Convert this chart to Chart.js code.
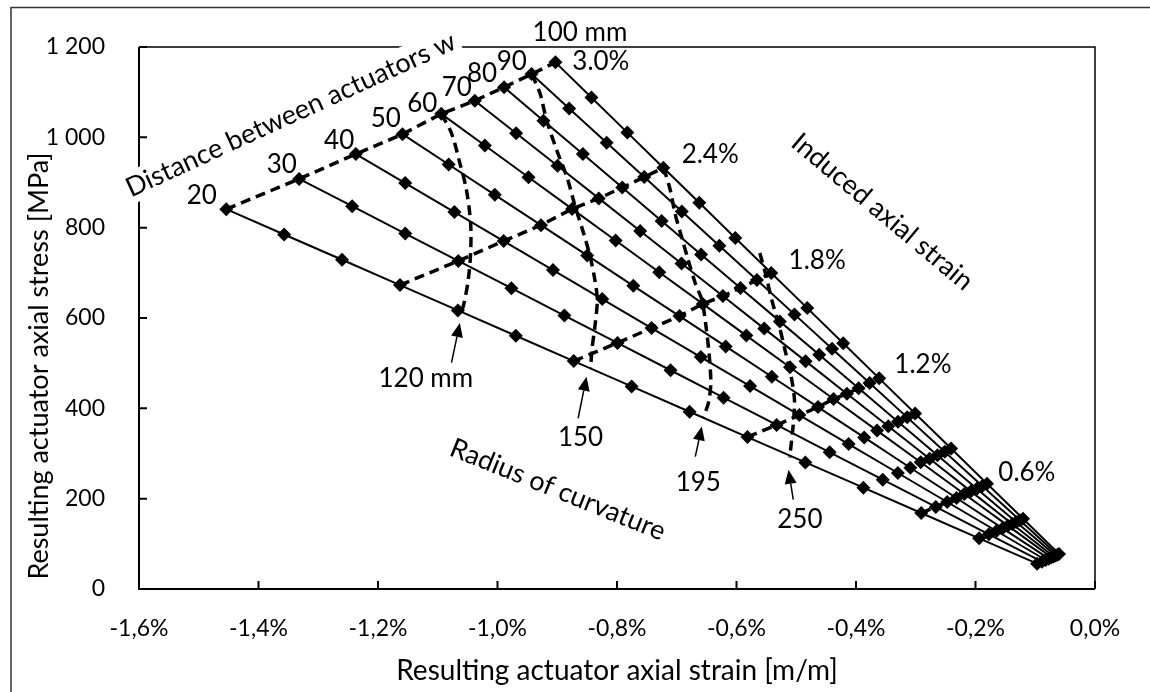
<!DOCTYPE html>
<html>
<head>
<meta charset="utf-8">
<script src="https://cdn.jsdelivr.net/npm/chart.js@4.4.0/dist/chart.umd.min.js"></script>
<style>
  html, body { margin: 0; padding: 0; background: #fff; }
</style>
</head>
<body>
<canvas id="chart" width="1150" height="692"></canvas>
<script>
// Induced axial strain steps (one marker per step)
const inducedStrain = ['0.2%', '0.4%', '0.6%', '0.8%', '1.0%', '1.2%', '1.4%', '1.6%', '1.8%', '2.0%', '2.2%', '2.4%', '2.6%', '2.8%', '3.0%'];
// Distance between actuators w [mm]
const distances = ['20', '30', '40', '50', '60', '70', '80', '90', '100'];

// Resulting strain [%] and stress [MPa] for each w
const strainW20 = [-0.0969, -0.1939, -0.2908, -0.3877, -0.4847, -0.5816, -0.6785, -0.7755, -0.8724, -0.9693, -1.0663, -1.1632, -1.2601, -1.3571, -1.454];
const stressW20 = [56.1, 112.1, 168.2, 224.3, 280.3, 336.4, 392.5, 448.5, 504.6, 560.7, 616.7, 672.8, 728.9, 784.9, 841];
const strainW30 = [-0.0888, -0.1776, -0.2664, -0.3552, -0.444, -0.5328, -0.6216, -0.7104, -0.7992, -0.888, -0.9768, -1.0656, -1.1544, -1.2432, -1.332];
const stressW30 = [60.5, 121.1, 181.6, 242.1, 302.7, 363.2, 423.7, 484.3, 544.8, 605.3, 665.9, 726.4, 786.9, 847.5, 908];
const strainW40 = [-0.0825, -0.1649, -0.2474, -0.3299, -0.4123, -0.4948, -0.5773, -0.6597, -0.7422, -0.8247, -0.9071, -0.9896, -1.0721, -1.1545, -1.237];
const stressW40 = [64.2, 128.4, 192.6, 256.8, 321, 385.2, 449.4, 513.6, 577.8, 642, 706.2, 770.4, 834.6, 898.8, 963];
const strainW50 = [-0.0773, -0.1545, -0.2318, -0.3091, -0.3863, -0.4636, -0.5409, -0.6181, -0.6954, -0.7727, -0.8499, -0.9272, -1.0045, -1.0817, -1.159];
const stressW50 = [67.1, 134.3, 201.4, 268.5, 335.7, 402.8, 469.9, 537.1, 604.2, 671.3, 738.5, 805.6, 872.7, 939.9, 1007];
const strainW60 = [-0.0729, -0.1459, -0.2188, -0.2917, -0.3647, -0.4376, -0.5105, -0.5835, -0.6564, -0.7293, -0.8023, -0.8752, -0.9481, -1.0211, -1.094];
const stressW60 = [70.1, 140.3, 210.4, 280.5, 350.7, 420.8, 490.9, 561.1, 631.2, 701.3, 771.5, 841.6, 911.7, 981.9, 1052];
const strainW70 = [-0.0692, -0.1384, -0.2076, -0.2768, -0.346, -0.4152, -0.4844, -0.5536, -0.6228, -0.692, -0.7612, -0.8304, -0.8996, -0.9688, -1.038];
const stressW70 = [72.1, 144.1, 216.2, 288.3, 360.3, 432.4, 504.5, 576.5, 648.6, 720.7, 792.7, 864.8, 936.9, 1008.9, 1081];
const strainW80 = [-0.0659, -0.1319, -0.1978, -0.2637, -0.3297, -0.3956, -0.4615, -0.5275, -0.5934, -0.6593, -0.7253, -0.7912, -0.8571, -0.9231, -0.989];
const stressW80 = [74.1, 148.1, 222.2, 296.3, 370.3, 444.4, 518.5, 592.5, 666.6, 740.7, 814.7, 888.8, 962.9, 1036.9, 1111];
const strainW90 = [-0.0629, -0.1257, -0.1886, -0.2515, -0.3143, -0.3772, -0.4401, -0.5029, -0.5658, -0.6287, -0.6915, -0.7544, -0.8173, -0.8801, -0.943];
const stressW90 = [76, 152, 228, 304, 380, 456, 532, 608, 684, 760, 836, 912, 988, 1064, 1140];
const strainW100 = [-0.0602, -0.1204, -0.1806, -0.2408, -0.301, -0.3612, -0.4214, -0.4816, -0.5418, -0.602, -0.6622, -0.7224, -0.7826, -0.8428, -0.903];
const stressW100 = [77.7, 155.5, 233.2, 310.9, 388.7, 466.4, 544.1, 621.9, 699.6, 777.3, 855.1, 932.8, 1010.5, 1088.3, 1166];

// Radius of curvature curves
const radiusLabels = ['120 mm', '150', '195', '250'];
const strainR120 = [-1.094, -1.077, -1.063, -1.052, -1.045, -1.045, -1.049, -1.056, -1.062];
const stressR120 = [1052, 1009, 943, 884, 810, 744, 684, 633, 605];
const strainR150 = [-0.943, -0.929, -0.918, -0.901, -0.884, -0.870, -0.856, -0.845, -0.837, -0.833, -0.837, -0.842, -0.844];
const stressR150 = [1140, 1098, 1039, 972, 913, 847, 788, 736, 684, 640, 581, 530, 489];
const strainR195 = [-0.722, -0.711, -0.703, -0.692, -0.681, -0.669, -0.658, -0.651, -0.646, -0.643, -0.647, -0.656];
const stressR195 = [933, 884, 832, 780, 729, 677, 640, 581, 522, 456, 412, 379];
const strainR250 = [-0.561, -0.551, -0.541, -0.529, -0.519, -0.509, -0.503, -0.505, -0.511];
const stressR250 = [744, 696, 640, 585, 530, 474, 419, 364, 291];

// Axis ticks
const xTicks = [-1.6, -1.4, -1.2, -1.0, -0.8, -0.6, -0.4, -0.2, 0];
const yTicks = [0, 200, 400, 600, 800, 1000, 1200];

const strainSeries = [strainW20, strainW30, strainW40, strainW50, strainW60, strainW70, strainW80, strainW90, strainW100];
const stressSeries = [stressW20, stressW30, stressW40, stressW50, stressW60, stressW70, stressW80, stressW90, stressW100];
const radiusStrain = [strainR120, strainR150, strainR195, strainR250];
const radiusStress = [stressR120, stressR150, stressR195, stressR250];
// iso-strain lines drawn at 0.6, 1.2, 1.8, 2.4 and 3.0 %
const isoSteps = ['0.6%', '1.2%', '1.8%', '2.4%', '3.0%'];

const FONT = 'Lato';

function pts(xs, ys) {
    return xs.map((x, i) => ({ x: x, y: ys[i] }));
}

const datasets = [];

// lineas de deformación inducida constante (discontinuas)
isoSteps.forEach(step => {
    const j = inducedStrain.indexOf(step);
    datasets.push({
        label: step,
        data: strainSeries.map((s, i) => ({ x: s[j], y: stressSeries[i][j] })),
        showLine: true,
        borderColor: '#000',
        borderWidth: 3.5,
        borderDash: [10, 6],
        pointRadius: 0
    });
});

// curvas de radio de curvatura
radiusLabels.forEach((r, i) => {
    datasets.push({
        label: r,
        data: pts(radiusStrain[i], radiusStress[i]),
        showLine: true,
        borderColor: '#000',
        borderWidth: 3.5,
        borderDash: [10, 6],
        tension: 0.3,
        pointRadius: 0
    });
});

// una serie por distancia w
distances.forEach((d, i) => {
    datasets.push({
        label: d + ' mm',
        data: pts(strainSeries[i], stressSeries[i]),
        showLine: true,
        borderColor: '#000',
        borderWidth: 2,
        backgroundColor: '#000',
        pointStyle: 'rectRot',
        pointRadius: 7,
        pointBorderWidth: 0
    });
});

// Text annotations (data coordinates)
const numberLabels = [
    { text: '20', x: -1.495, y: 870 },
    { text: '30', x: -1.361, y: 939 },
    { text: '40', x: -1.265, y: 992 },
    { text: '50', x: -1.187, y: 1041 },
    { text: '60', x: -1.126, y: 1074 },
    { text: '70', x: -1.068, y: 1109 },
    { text: '80', x: -1.026, y: 1140 },
    { text: '90', x: -0.976, y: 1167 },
    { text: '100 mm', x: -0.862, y: 1232 },
    { text: '3.0%', x: -0.827, y: 1167 },
    { text: '2.4%', x: -0.644, y: 961 },
    { text: '1.8%', x: -0.465, y: 726 },
    { text: '1.2%', x: -0.288, y: 496 },
    { text: '0.6%', x: -0.114, y: 257 },
    { text: '120 mm', x: -1.12, y: 465 },
    { text: '150', x: -0.861, y: 336 },
    { text: '195', x: -0.664, y: 235 },
    { text: '250', x: -0.494, y: 153 }
];
const rotatedLabels = [
    { text: 'Distance between actuators w', x: -1.346, y: 1050, angle: -24.6, box: true },
    { text: 'Induced axial strain', x: -0.356, y: 835, angle: 40 },
    { text: 'Radius of curvature', x: -0.899, y: 220, angle: 22 }
];
const arrows = [
    { x1: -1.077, y1: 501, x2: -1.063, y2: 589 },
    { x1: -0.865, y1: 378, x2: -0.851, y2: 470 },
    { x1: -0.669, y1: 293, x2: -0.658, y2: 360 },
    { x1: -0.505, y1: 198, x2: -0.513, y2: 264 }
];

const framePlugin = {
    id: 'frame',
    beforeDraw(chart) {
        const ctx = chart.ctx;
        ctx.save();
        ctx.fillStyle = '#fff';
        ctx.fillRect(0, 0, chart.width, chart.height);
        ctx.strokeStyle = '#333';
        ctx.lineWidth = 1.5;
        ctx.beginPath();
        ctx.moveTo(11, chart.height);
        ctx.lineTo(11, 7.5);
        ctx.lineTo(chart.width, 7.5);
        ctx.stroke();
        ctx.restore();
    },
    beforeDatasetsDraw(chart) {
        const { ctx, chartArea: a, scales: { x, y } } = chart;
        ctx.save();
        ctx.strokeStyle = '#000';
        ctx.lineWidth = 1.5;
        ctx.beginPath();
        ctx.moveTo(a.left, a.top);
        ctx.lineTo(a.right, a.top);
        ctx.lineTo(a.right, a.bottom);
        ctx.stroke();
        ctx.lineWidth = 2;
        ctx.beginPath();
        ctx.moveTo(a.left, a.top);
        ctx.lineTo(a.left, a.bottom);
        ctx.lineTo(a.right, a.bottom);
        ctx.stroke();
        // marcas de graduación hacia dentro
        ctx.lineWidth = 2;
        ctx.beginPath();
        x.ticks.forEach(t => {
            const px = x.getPixelForValue(t.value);
            ctx.moveTo(px, a.bottom);
            ctx.lineTo(px, a.bottom - 8);
        });
        y.ticks.forEach(t => {
            const py = y.getPixelForValue(t.value);
            ctx.moveTo(a.left, py);
            ctx.lineTo(a.left + 8, py);
        });
        ctx.stroke();
        // título eje Y
        ctx.fillStyle = '#000';
        ctx.font = '27px ' + FONT;
        ctx.textAlign = 'center';
        ctx.textBaseline = 'middle';
        ctx.translate(39, (a.top + a.bottom) / 2 + 48);
        ctx.rotate(-Math.PI / 2);
        ctx.fillText('Resulting actuator axial stress [MPa]', 0, 0);
        ctx.restore();
    },
    afterDatasetsDraw(chart) {
        const { ctx, scales: { x, y } } = chart;
        ctx.save();
        ctx.fillStyle = '#000';
        ctx.strokeStyle = '#000';
        ctx.textAlign = 'center';
        ctx.textBaseline = 'middle';

        rotatedLabels.forEach(l => {
            ctx.save();
            ctx.font = '27px ' + FONT;
            ctx.translate(x.getPixelForValue(l.x), y.getPixelForValue(l.y));
            ctx.rotate(l.angle * Math.PI / 180);
            if (l.box) {
                const w = ctx.measureText(l.text).width;
                ctx.fillStyle = '#fff';
                ctx.fillRect(-w / 2 - 4, -16, w + 8, 32);
                ctx.fillStyle = '#000';
            }
            ctx.fillText(l.text, 0, 0);
            ctx.restore();
        });

        ctx.font = '26px ' + FONT;
        numberLabels.forEach(l => {
            ctx.fillText(l.text, x.getPixelForValue(l.x), y.getPixelForValue(l.y));
        });

        ctx.lineWidth = 1.5;
        arrows.forEach(ar => {
            const x1 = x.getPixelForValue(ar.x1), y1 = y.getPixelForValue(ar.y1);
            const x2 = x.getPixelForValue(ar.x2), y2 = y.getPixelForValue(ar.y2);
            const ang = Math.atan2(y2 - y1, x2 - x1);
            const hl = 14, hw = 6;
            const bx = x2 - hl * Math.cos(ang), by = y2 - hl * Math.sin(ang);
            ctx.beginPath();
            ctx.moveTo(x1, y1);
            ctx.lineTo(bx, by);
            ctx.stroke();
            ctx.beginPath();
            ctx.moveTo(x2, y2);
            ctx.lineTo(bx + hw * Math.sin(ang), by - hw * Math.cos(ang));
            ctx.lineTo(bx - hw * Math.sin(ang), by + hw * Math.cos(ang));
            ctx.closePath();
            ctx.fill();
        });
        ctx.restore();
    }
};

const ctx = document.getElementById('chart').getContext('2d');
const myChart = new Chart(ctx, {
    type: 'scatter',
    data: { datasets: datasets },
    options: {
        responsive: false,
        animation: false,
        layout: { padding: { top: 47, right: 55, left: 0, bottom: 0 } },
        plugins: {
            legend: { display: false },
            tooltip: { enabled: false }
        },
        scales: {
            x: {
                type: 'linear',
                min: xTicks[0],
                max: xTicks[xTicks.length - 1],
                afterBuildTicks: s => { s.ticks = xTicks.map(v => ({ value: v })); },
                afterFit: s => { s.height = 103; },
                grid: { display: false },
                border: { display: false },
                ticks: {
                    color: '#000',
                    padding: 18,
                    maxRotation: 0,
                    font: { family: FONT, size: 23 },
                    callback: v => (Math.abs(v) < 1e-9 ? 0 : v).toFixed(1).replace('.', ',') + '%'
                },
                title: {
                    display: true,
                    text: 'Resulting actuator axial strain [m/m]',
                    color: '#000',
                    font: { family: FONT, size: 28 },
                    padding: { top: 0, bottom: 4 }
                }
            },
            y: {
                type: 'linear',
                min: yTicks[0],
                max: yTicks[yTicks.length - 1],
                afterBuildTicks: s => { s.ticks = yTicks.map(v => ({ value: v })); },
                afterFit: s => { s.width = 139; },
                grid: { display: false },
                border: { display: false },
                ticks: {
                    color: '#000',
                    padding: 26,
                    font: { family: FONT, size: 23 },
                    callback: v => v >= 1000 ? String(v).replace(/(\d)(\d{3})$/, '$1 $2') : String(v)
                }
            }
        }
    },
    plugins: [framePlugin]
});
</script>
</body>
</html>
